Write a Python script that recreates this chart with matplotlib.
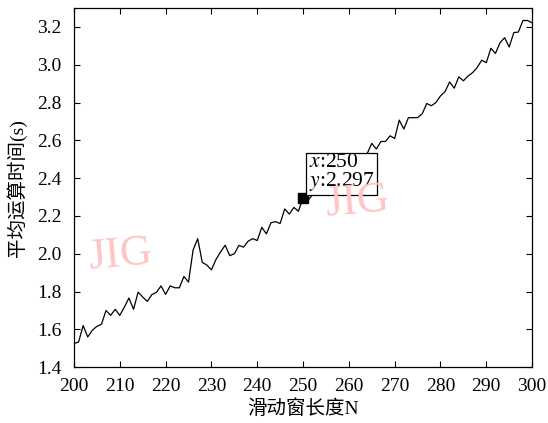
import numpy as np
import matplotlib
matplotlib.use("Agg")
import matplotlib.pyplot as plt

plt.rcParams['font.family'] = ['Liberation Serif', 'Noto Sans CJK SC']
plt.rcParams['mathtext.fontset'] = 'stix'

# window length N and mean computing time (s)
n_vals = list(range(200, 301))
t_200_250 = [1.525, 1.533, 1.62, 1.56, 1.595, 1.616, 1.627, 1.70, 1.674, 1.706,
             1.674, 1.718, 1.766, 1.706, 1.797, 1.771, 1.748, 1.784, 1.796, 1.83,
             1.785, 1.83, 1.82, 1.82, 1.88, 1.85, 2.02, 2.08, 1.955, 1.94,
             1.915, 1.97, 2.01, 2.045, 1.99, 2.00, 2.044, 2.035, 2.066, 2.08,
             2.07, 2.14, 2.105, 2.164, 2.17, 2.16, 2.237, 2.21, 2.245, 2.225,
             2.297]
# 253..264 sit under the data-tip box, rough guesses
t_251_264 = [2.28, 2.31, 2.35, 2.33, 2.38, 2.40, 2.39, 2.43, 2.45, 2.44,
             2.48, 2.50, 2.49, 2.53]
t_265_300 = [2.584, 2.554, 2.594, 2.594, 2.624, 2.61, 2.707, 2.66, 2.72, 2.72,
             2.72, 2.74, 2.795, 2.783, 2.80, 2.835, 2.858, 2.909, 2.876, 2.936,
             2.915, 2.94, 2.958, 2.985, 3.024, 3.011, 3.087, 3.06, 3.117, 3.143,
             3.094, 3.17, 3.173, 3.234, 3.234, 3.222]
t_vals = t_200_250 + t_251_264 + t_265_300

tip_x = 250
tip_y = 2.297
xticks = list(range(200, 301, 10))
yticks = [1.4, 1.6, 1.8, 2.0, 2.2, 2.4, 2.6, 2.8, 3.0, 3.2]

fig = plt.figure(figsize=(5.48, 4.23), dpi=100)
ax = fig.add_axes([0.135, 0.132, 0.836, 0.849])

ax.plot(n_vals, t_vals, color='black', lw=0.9)
ax.plot([tip_x], [tip_y], marker='s', ms=7, color='black', zorder=5)

ax.text(251.3, 2.322, '$x$:%d\n$y$:%.3f' % (tip_x, tip_y), fontsize=15.5,
        ha='left', va='bottom', linespacing=0.86, zorder=6,
        bbox=dict(boxstyle='square,pad=0.12', fc='white', ec='black', lw=0.9))

# journal watermark
for wx, wy in [(210, 1.99), (261.8, 2.27)]:
    ax.text(wx, wy, 'JIG', fontsize=32, color='#ffc4c4', ha='center',
            va='center', rotation=5, zorder=7, family='Liberation Serif')

ax.set_xlim(200, 300)
ax.set_ylim(1.4, 3.3)
ax.set_xticks(xticks)
ax.set_yticks(yticks)
ax.set_yticklabels(['%.1f' % v for v in yticks])
ax.tick_params(direction='in', top=True, right=True, length=4.5, width=0.8,
               labelsize=14)
ax.tick_params(axis='y', pad=9)
ax.tick_params(axis='x', pad=8)
for s in ax.spines.values():
    s.set_linewidth(0.9)

ax.set_xlabel('滑动窗长度N', fontsize=14, labelpad=3)
ax.set_ylabel('平均运算时间(s)', fontsize=14, labelpad=7)

fig.savefig('out.png', dpi=100)
